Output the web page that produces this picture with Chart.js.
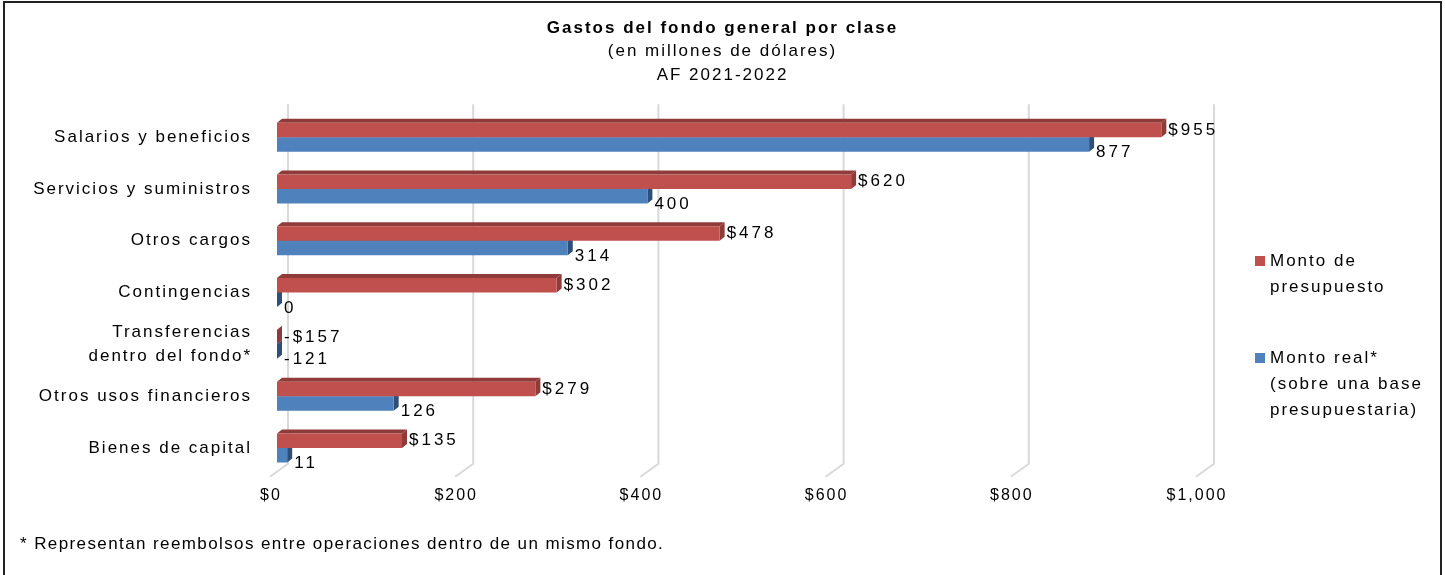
<!DOCTYPE html>
<html>
<head>
<meta charset="utf-8">
<script src="https://cdn.jsdelivr.net/npm/chart.js@4.4.1/dist/chart.umd.min.js"></script>
<style>
  html, body { margin: 0; padding: 0; background: #fff; overflow: hidden; }
  #wrap { position: relative; width: 1445px; height: 575px; }
  #frame { position: absolute; left: 3px; top: 1px; width: 1435px; height: 620px; border: 2px solid #222; }
  #chart { position: absolute; left: 0; top: 0; }
  #note { position: absolute; left: 20px; top: 534px; font: 17px "Liberation Sans", Arial, sans-serif; letter-spacing: 1.4px; color: #000; }
</style>
</head>
<body>
<div id="wrap">
  <div id="frame"></div>
  <canvas id="chart" width="1445" height="575"></canvas>
  <div id="note">* Representan reembolsos entre operaciones dentro de un mismo fondo.</div>
</div>
<script>
const categories = [
  'Salarios y beneficios',
  'Servicios y suministros',
  'Otros cargos',
  'Contingencias',
  ['Transferencias', 'dentro del fondo*'],
  'Otros usos financieros',
  'Bienes de capital'
];
const presupuesto = [955, 620, 478, 302, -157, 279, 135];
const montoReal = [877, 400, 314, 0, -121, 126, 11];
const xTicks = [0, 200, 400, 600, 800, 1000];

const FONT = '"Liberation Sans", Arial, sans-serif';
const RED = '#C0504D', RED_DARK = '#8E3B39';
const BLUE = '#4F81BD', BLUE_DARK = '#2F4F78';
const DX = 5, DY = 4;

// 3D look: back wall grid, floor, top and end faces of bars, labels, legend
const depthPlugin = {
  id: 'depth',
  beforeDraw(chart) {
    chart.ctx.letterSpacing = '2px';
  },
  beforeDatasetsDraw(chart) {
    const ctx = chart.ctx;
    const xs = chart.scales.x;
    const area = chart.chartArea;
    ctx.save();
    ctx.strokeStyle = '#D9D9D9';
    ctx.lineWidth = 2;
    for (const v of xTicks) {
      const px = xs.getPixelForValue(v);
      ctx.beginPath();
      ctx.moveTo(px + 11, area.top - 7);
      ctx.lineTo(px + 11, area.bottom - 10);
      ctx.lineTo(px - 7, area.bottom + 3);
      ctx.stroke();
    }
    // faces, drawn before the fronts so the fronts cover what is hidden
    const dark = [RED_DARK, BLUE_DARK];
    for (let d = chart.data.datasets.length - 1; d >= 0; d--) {
      const meta = chart.getDatasetMeta(d);
      ctx.fillStyle = dark[d];
      meta.data.forEach((bar) => {
        const top = bar.y - bar.height / 2;
        const bot = bar.y + bar.height / 2;
        const x = Math.max(bar.x, area.left);
        const base = area.left;
        if (x > base) {
          ctx.beginPath();
          ctx.moveTo(base, top);
          ctx.lineTo(base + DX, top - DY);
          ctx.lineTo(x + DX, top - DY);
          ctx.lineTo(x, top);
          ctx.closePath();
          ctx.fill();
        }
        ctx.beginPath();
        ctx.moveTo(x, top);
        ctx.lineTo(x + DX, top - DY);
        ctx.lineTo(x + DX, bot - DY);
        ctx.lineTo(x, bot);
        ctx.closePath();
        ctx.fill();
      });
    }
    ctx.restore();
  },
  afterDatasetsDraw(chart) {
    const ctx = chart.ctx;
    const area = chart.chartArea;
    ctx.save();
    ctx.letterSpacing = '3px';
    ctx.font = '17px ' + FONT;
    ctx.fillStyle = '#000';
    ctx.textAlign = 'left';
    ctx.textBaseline = 'middle';
    chart.getDatasetMeta(0).data.forEach((bar, i) => {
      const v = presupuesto[i];
      const txt = (v < 0 ? '-$' : '$') + Math.abs(v);
      ctx.fillText(txt, Math.max(bar.x, area.left) + DX + 2, bar.y);
    });
    chart.getDatasetMeta(1).data.forEach((bar, i) => {
      ctx.fillText(String(montoReal[i]), Math.max(bar.x, area.left) + DX + 2, bar.y + 8);
    });
    ctx.restore();
  },
  afterDraw(chart) {
    const ctx = chart.ctx;
    ctx.save();
    ctx.letterSpacing = '2px';
    ctx.font = '17px ' + FONT;
    ctx.fillStyle = '#000';
    ctx.textBaseline = 'middle';
    const items = [
      { color: RED, lines: ['Monto de', 'presupuesto'], y: 261 },
      { color: BLUE, lines: ['Monto real*', '(sobre una base', 'presupuestaria)'], y: 358 }
    ];
    for (const it of items) {
      ctx.fillStyle = it.color;
      ctx.fillRect(1255, it.y - 5, 10, 10);
      ctx.fillStyle = '#000';
      it.lines.forEach((l, k) => ctx.fillText(l, 1270, it.y + k * 26));
    }
    ctx.restore();
  }
};

new Chart(document.getElementById('chart'), {
  type: 'bar',
  data: {
    labels: categories,
    datasets: [
      { label: 'Monto de presupuesto', data: presupuesto, backgroundColor: RED },
      { label: 'Monto real* (sobre una base presupuestaria)', data: montoReal, backgroundColor: BLUE }
    ]
  },
  options: {
    indexAxis: 'y',
    responsive: false,
    animation: false,
    devicePixelRatio: 1,
    categoryPercentage: 0.56,
    barPercentage: 1,
    layout: { padding: { left: 0, right: 0, top: 0, bottom: 66 } },
    scales: {
      x: {
        min: 0,
        max: 1000,
        grid: { display: false },
        border: { display: false },
        afterBuildTicks(scale) {
          scale.ticks = xTicks.map(v => ({ value: v }));
        },
        ticks: {
          padding: 4,
          labelOffset: -6,
          color: '#000',
          font: { family: FONT, size: 16 },
          callback: (v) => '$' + v.toLocaleString('en-US')
        }
      },
      y: {
        grid: { display: false, drawTicks: false },
        border: { display: false },
        afterFit(scale) { scale.width = 277; },
        ticks: {
          autoSkip: false,
          padding: 25,
          color: '#000',
          font: { family: FONT, size: 17, lineHeight: 1.45 }
        }
      },
      // empty right-hand box that leaves room for the legend
      yRight: {
        type: 'category',
        axis: 'y',
        position: 'right',
        grid: { display: false, drawTicks: false },
        border: { display: false },
        ticks: { display: false },
        afterFit(scale) { scale.width = 242; }
      }
    },
    plugins: {
      legend: { display: false },
      tooltip: { enabled: false },
      title: {
        display: true,
        text: 'Gastos del fondo general por clase',
        color: '#000',
        font: { family: FONT, size: 17, weight: 'bold', lineHeight: 1.2 },
        padding: { top: 18, bottom: 1 }
      },
      subtitle: {
        display: true,
        text: ['(en millones de dólares)', 'AF 2021-2022'],
        color: '#000',
        font: { family: FONT, size: 17, lineHeight: 1.41 },
        padding: { top: 0, bottom: 24 }
      }
    }
  },
  plugins: [depthPlugin]
});
</script>
</body>
</html>
